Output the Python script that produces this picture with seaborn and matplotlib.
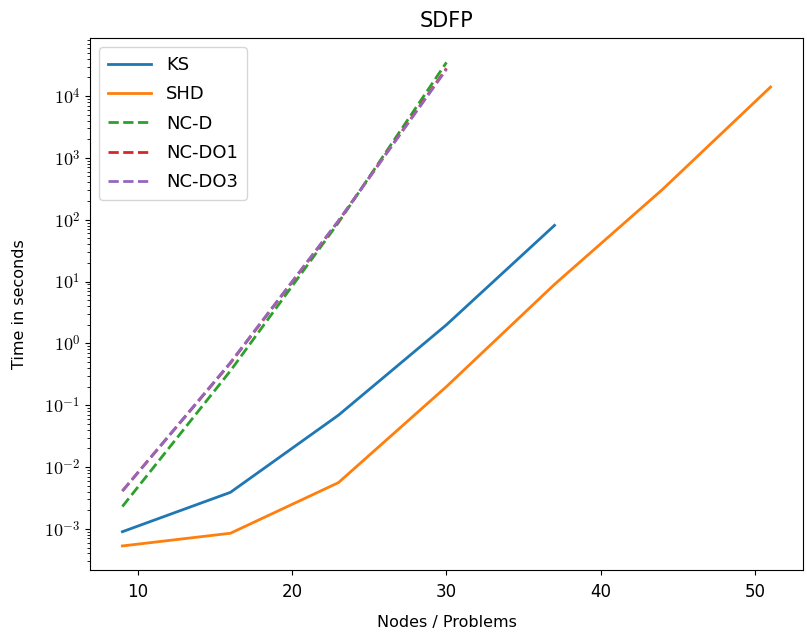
import math
import matplotlib
matplotlib.use("Agg")
import matplotlib.pyplot as plt
from matplotlib.ticker import FuncFormatter, LogLocator, NullFormatter
import seaborn as sns
import pandas as pd

plt.rcParams['font.family'] = ['DejaVu Sans']
plt.rcParams['mathtext.fontset'] = 'cm'

ks_x = [9, 16, 23, 30, 37]
ks_y = [9.0e-4, 3.9e-3, 0.069, 2.0, 81]
shd_x = [9, 16, 23, 30, 37, 44, 51]
shd_y = [5.3e-4, 8.5e-4, 5.6e-3, 0.2, 9.0, 309, 1.4e4]
ncd_x = [9, 16, 23, 30]
ncd_y = [2.3e-3, 0.36, 90, 3.5e4]
ncdo1_x = [9, 16, 23, 30]
ncdo1_y = [4.1e-3, 0.48, 95, 2.8e4]
ncdo3_x = [9, 16, 23, 30]
ncdo3_y = [4.1e-3, 0.49, 96, 2.7e4]

series = [("KS", ks_x, ks_y), ("SHD", shd_x, shd_y), ("NC-D", ncd_x, ncd_y),
          ("NC-DO1", ncdo1_x, ncdo1_y), ("NC-DO3", ncdo3_x, ncdo3_y)]
rows = []
for name, xs, ys in series:
    for x, y in zip(xs, ys):
        rows.append({"method": name, "x": x, "y": y})
df = pd.DataFrame(rows)
order = [s[0] for s in series]

palette = {"KS": "#1f77b4", "SHD": "#ff7f0e", "NC-D": "#2ca02c",
           "NC-DO1": "#d62728", "NC-DO3": "#9467bd"}
dashes = {"KS": "", "SHD": "", "NC-D": (3.7, 1.6), "NC-DO1": (3.7, 1.6), "NC-DO3": (3.7, 1.6)}

fig = plt.figure(figsize=(8.07, 6.37), dpi=100)
ax = fig.add_axes([0.1115, 0.105, 0.8835, 0.835])
sns.lineplot(data=df, x="x", y="y", hue="method", style="method",
             hue_order=order, style_order=order, palette=palette,
             dashes=dashes, linewidth=2, ax=ax, estimator=None, sort=True)
ax.set_yscale("log")
ax.yaxis.set_major_locator(LogLocator(base=10, numticks=20))
ax.yaxis.set_minor_locator(LogLocator(base=10, subs=range(2, 10), numticks=100))
ax.yaxis.set_minor_formatter(NullFormatter())
ax.yaxis.set_major_formatter(FuncFormatter(lambda v, p: r"$10^{%d}$" % round(math.log10(v))))
ax.tick_params(axis="y", labelsize=13)
ax.tick_params(axis="x", labelsize=12, pad=6)
ax.set_title("SDFP", fontsize=15, pad=8)
ax.set_xlabel("Nodes / Problems", fontsize=11.5, labelpad=10)
ax.set_ylabel("Time in seconds", fontsize=11.5, labelpad=12)
ax.legend(title=None, fontsize=13, loc="upper left", handlelength=2.4,
          labelspacing=0.62, borderpad=0.5)
fig.savefig("out.png", dpi=100)
